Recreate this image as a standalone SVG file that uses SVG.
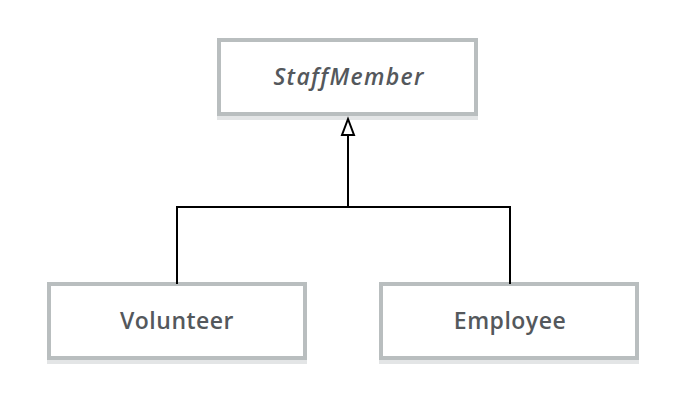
<svg xmlns="http://www.w3.org/2000/svg" width="688" height="416" viewBox="0 0 688 416">
<style>
.box{fill:#fff;stroke:#b9bebf;stroke-width:4}
.shadow{fill:#e3e5e6}
.lbl{font-family:"Open Sans",Lato,sans-serif;font-weight:600;font-size:23px;fill:#54585c;text-anchor:middle;letter-spacing:0.5px}
.conn{fill:none;stroke:#000;stroke-width:2}
</style>
<rect width="688" height="416" fill="#fff"/>
<g id="StaffMember">
<rect class="shadow" x="217" y="112" width="261" height="8"/>
<rect class="box" x="219" y="40" width="257" height="74"/>
<text class="lbl" x="349" y="85" font-style="italic" style="letter-spacing:1.3px">StaffMember</text>
</g>
<g id="Volunteer">
<rect class="shadow" x="47" y="356" width="260" height="8"/>
<rect class="box" x="49" y="284" width="256" height="74"/>
<text class="lbl" x="177" y="329">Volunteer</text>
</g>
<g id="Employee">
<rect class="shadow" x="379" y="356" width="260" height="8"/>
<rect class="box" x="381" y="284" width="256" height="74"/>
<text class="lbl" x="510" y="329">Employee</text>
</g>
<g id="connectors">
<path class="conn" d="M177 284 V207 H510 V284"/>
<path class="conn" d="M348 207 V135"/>
<polygon points="348,119 342,135 354,135" fill="#fff" stroke="#000" stroke-width="2"/>
</g>
</svg>
